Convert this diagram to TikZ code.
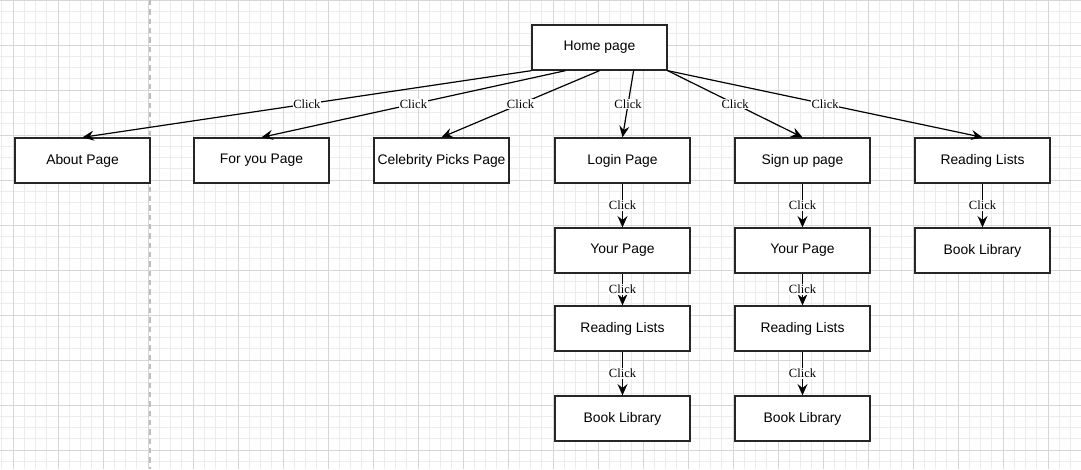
\documentclass[tikz,border=0pt]{standalone}
\usepackage{fontspec}
\setmainfont{Liberation Sans}
\newfontfamily\clickfont{Liberation Serif}
\usetikzlibrary{calc,arrows.meta}
\definecolor{gridMinor}{RGB}{236,236,236}
\definecolor{gridMajor}{RGB}{214,214,214}
\definecolor{gridDash}{RGB}{190,190,190}
\definecolor{boxLine}{RGB}{38,38,38}

\begin{document}
\begin{tikzpicture}[x=0.75pt,y=-0.75pt,
  page/.style={draw=boxLine, line width=1pt, fill=white, minimum width=101.25pt, minimum height=33.75pt, inner sep=0pt, font=\fontsize{10.4}{12}\selectfont},
  link/.style={black, line width=0.9pt, -{Stealth[length=8.5pt,width=7.5pt,inset=3pt]}},
  click/.style={fill=white, inner sep=0.6pt, font=\clickfont\fontsize{9.4}{11}\selectfont}]
\useasboundingbox (0,0) rectangle (1081,469);
% grid
\foreach \i in {0,...,96}
{
\draw[gridMinor, line width=0.5pt] (1.75+11.25*\i,0) -- (1.75+11.25*\i,469);
}
\foreach \j in {0,...,41}
{
\draw[gridMinor, line width=0.5pt] (0,11.25*\j) -- (1081,11.25*\j);
}
\foreach \i in {0,...,23}
{
\draw[gridMajor, line width=0.6pt] (13+45*\i,0) -- (13+45*\i,469);
}
\foreach \j in {0,...,10}
{
\draw[gridMajor, line width=0.6pt] (0,45*\j) -- (1081,45*\j);
}
\draw[gridDash, line width=1.1pt, dash pattern=on 4pt off 3pt] (150,0) -- (150,469);

% pages
\node[page] (home) at (599.5,47.5) {Home page};
\node[page] (about) at (82.5,160.5) {About Page};
\node[page] (foryou) at (261.5,160.5) {For you Page};
\node[page] (celeb) at (441.5,160.5) {Celebrity Picks Page};
\node[page] (login) at (622.5,160.5) {Login Page};
\node[page] (signup) at (802.5,160.5) {Sign up page};
\node[page] (lists) at (982.5,160.5) {Reading Lists};

\node[page] (loginYour) at (622.5,250.5) {Your Page};
\node[page] (loginLists) at (622.5,328.5) {Reading Lists};
\node[page] (loginBooks) at (622.5,418.5) {Book Library};
\node[page] (signupYour) at (802.5,250.5) {Your Page};
\node[page] (signupLists) at (802.5,328.5) {Reading Lists};
\node[page] (signupBooks) at (802.5,418.5) {Book Library};
\node[page] (listsBooks) at (982.5,250.5) {Book Library};

% links from the home page
\draw[link] (home.south west) -- node[click] {Click} (about.north);
\draw[link] ($(home.south west)!0.25!(home.south east)$) -- node[click] {Click} (foryou.north);
\draw[link] (home.south) -- node[click] {Click} (celeb.north);
\draw[link] ($(home.south west)!0.75!(home.south east)$) -- node[click] {Click} (login.north);
\draw[link] (home.south east) -- node[click] {Click} (signup.north);
\draw[link] (home.south east) -- node[click] {Click} (lists.north);

% links down the columns
\foreach \a/\b in {login/loginYour,loginYour/loginLists,loginLists/loginBooks,signup/signupYour,signupYour/signupLists,signupLists/signupBooks,lists/listsBooks}
{
\draw[link] (\a.south) -- node[click] {Click} (\b.north);
}
\end{tikzpicture}
\end{document}
